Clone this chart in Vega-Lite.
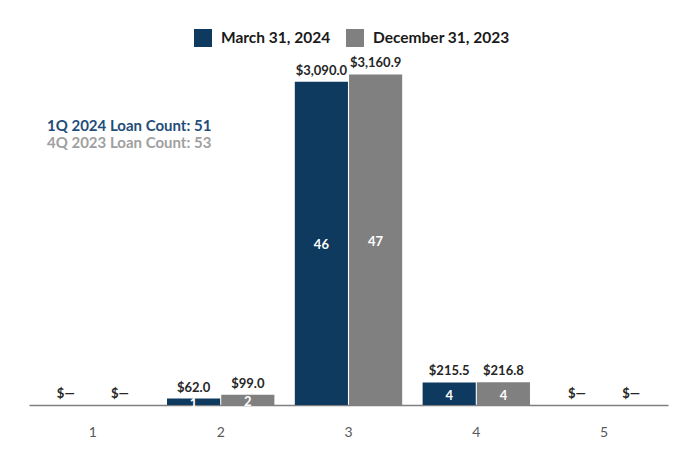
{
  "$schema": "https://vega.github.io/schema/vega-lite/v6.json",
  "width": 639,
  "height": 366,
  "autosize": {"type": "none"},
  "padding": {"left": 29, "top": 39, "right": 16, "bottom": 53},
  "background": "white",
  "config": {"view": {"stroke": null}, "font": "Lato"},
  "title": {
    "text": "1Q 2024 Loan Count: 51",
    "subtitle": "4Q 2023 Loan Count: 53",
    "anchor": "start",
    "frame": "group",
    "orient": "top",
    "dx": 18,
    "dy": 126,
    "font": "Lato",
    "fontSize": 15,
    "fontWeight": "bold",
    "color": "#1f4e79",
    "subtitleFont": "Lato",
    "subtitleFontSize": 15,
    "subtitleFontWeight": "bold",
    "subtitleColor": "#a0a0a0",
    "subtitlePadding": 2
  },
  "data": {
    "values": [
      {"category": "1", "series": "March 31, 2024", "amount": 0, "count": null},
      {"category": "1", "series": "December 31, 2023", "amount": 0, "count": null},
      {"category": "2", "series": "March 31, 2024", "amount": 62.0, "count": 1},
      {"category": "2", "series": "December 31, 2023", "amount": 99.0, "count": 2},
      {"category": "3", "series": "March 31, 2024", "amount": 3090.0, "count": 46},
      {"category": "3", "series": "December 31, 2023", "amount": 3160.9, "count": 47},
      {"category": "4", "series": "March 31, 2024", "amount": 215.5, "count": 4},
      {"category": "4", "series": "December 31, 2023", "amount": 216.8, "count": 4},
      {"category": "5", "series": "March 31, 2024", "amount": 0, "count": null},
      {"category": "5", "series": "December 31, 2023", "amount": 0, "count": null}
    ]
  },
  "transform": [
    {"calculate": "datum.amount == 0 ? '$\u2014' : '$' + format(datum.amount, ',.1f')", "as": "label"},
    {"calculate": "datum.amount / 2", "as": "mid"}
  ],
  "encoding": {
    "x": {
      "field": "category",
      "type": "nominal",
      "scale": {"paddingInner": 0.16, "paddingOuter": 0.08},
      "axis": {
        "title": null,
        "labelAngle": 0,
        "ticks": false,
        "domainColor": "#7f7f7f",
        "domainWidth": 1.5,
        "labelColor": "#595959",
        "labelFontSize": 14,
        "labelFont": "Lato",
        "labelPadding": 20
      }
    },
    "xOffset": {
      "field": "series",
      "type": "nominal",
      "sort": ["March 31, 2024", "December 31, 2023"],
      "scale": {"paddingInner": 0.02}
    }
  },
  "layer": [
    {
      "mark": {"type": "bar"},
      "encoding": {
        "y": {
          "field": "amount",
          "type": "quantitative",
          "scale": {"domain": [0, 3500]},
          "axis": null
        },
        "color": {
          "field": "series",
          "type": "nominal",
          "sort": ["March 31, 2024", "December 31, 2023"],
          "scale": {"domain": ["March 31, 2024", "December 31, 2023"], "range": ["#0d3a5e", "#808080"]},
          "legend": {
            "title": null,
            "orient": "none",
            "direction": "horizontal",
            "legendX": 165,
            "legendY": -10,
            "symbolType": "square",
            "symbolSize": 324,
            "symbolStrokeWidth": 0,
            "labelFont": "Lato",
            "labelFontSize": 15.5,
            "labelFontWeight": "bold",
            "labelColor": "#1a1a1a",
            "labelOffset": 9,
            "columnPadding": 15
          }
        }
      }
    },
    {
      "mark": {"type": "text", "baseline": "bottom", "dy": -4, "fontSize": 13, "fontWeight": "bold", "color": "#262626", "font": "Lato"},
      "encoding": {
        "y": {"field": "amount", "type": "quantitative", "scale": {"domain": [0, 3500]}},
        "text": {"field": "label"}
      }
    },
    {
      "transform": [{"filter": "datum.count != null"}],
      "mark": {"type": "text", "baseline": "middle", "dy": 2, "fontSize": 13, "fontWeight": "bold", "color": "white", "font": "Lato"},
      "encoding": {
        "y": {"field": "mid", "type": "quantitative", "scale": {"domain": [0, 3500]}},
        "text": {"field": "count"}
      }
    }
  ]
}
